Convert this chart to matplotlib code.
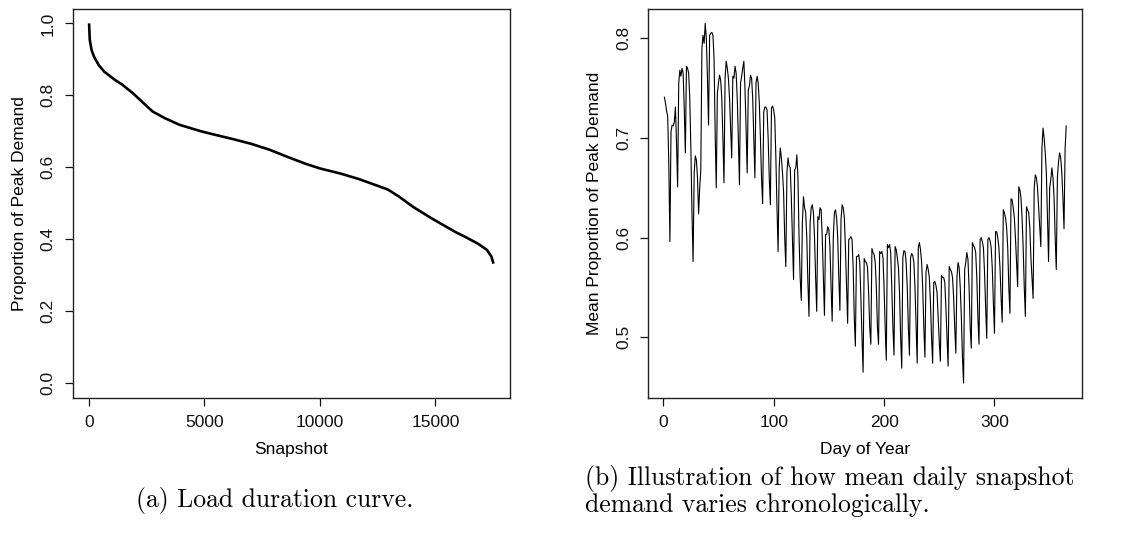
import numpy as np
import matplotlib
matplotlib.use("Agg")
import matplotlib.pyplot as plt

# ---------------- data ----------------
# (a) load duration curve: snapshot index vs proportion of peak demand
ldc_snapshot = [1, 31, 109, 218, 420, 654, 1120, 1432, 1898, 2365, 2754, 3299,
                3921, 4855, 5477, 6255, 7033, 7811, 8589, 9367, 9990, 10923,
                11701, 12479, 12946, 13413, 14035, 14813, 15436, 15902, 16369,
                16836, 17225, 17427, 17520]
ldc_value = [1.000, 0.954, 0.926, 0.907, 0.884, 0.866, 0.843, 0.830, 0.806,
             0.778, 0.755, 0.736, 0.718, 0.700, 0.690, 0.678, 0.665, 0.649,
             0.629, 0.610, 0.597, 0.582, 0.567, 0.549, 0.538, 0.519, 0.490,
             0.459, 0.436, 0.419, 0.404, 0.388, 0.371, 0.352, 0.332]

# (b) mean daily proportion of peak demand, day 1..365
daily_mean = [
    0.741, 0.735, 0.727, 0.722, 0.675, 0.596,
    0.706, 0.713, 0.712, 0.716, 0.731, 0.695, 0.651,
    0.755, 0.768, 0.762, 0.770, 0.765, 0.730, 0.685,
    0.772, 0.770, 0.765, 0.740, 0.690, 0.625, 0.576,
    0.665, 0.682, 0.678, 0.660, 0.624, 0.650, 0.668,
    0.790, 0.803, 0.795, 0.815, 0.800, 0.760, 0.713,
    0.803, 0.805, 0.806, 0.803, 0.780, 0.705, 0.650,
    0.745, 0.755, 0.763, 0.758, 0.740, 0.700, 0.655,
    0.760, 0.777, 0.770, 0.760, 0.740, 0.710, 0.680,
    0.762, 0.760, 0.772, 0.765, 0.740, 0.700, 0.653,
    0.755, 0.762, 0.770, 0.777, 0.750, 0.710, 0.665,
    0.748, 0.752, 0.763, 0.760, 0.740, 0.700, 0.660,
    0.755, 0.762, 0.755, 0.735, 0.700, 0.660, 0.634,
    0.726, 0.731, 0.731, 0.728, 0.700, 0.660, 0.633,
    0.730, 0.732, 0.728, 0.720, 0.680, 0.630, 0.586,
    0.670, 0.690, 0.680, 0.665, 0.645, 0.600, 0.571,
    0.665, 0.680, 0.672, 0.670, 0.640, 0.600, 0.558,
    0.668, 0.670, 0.683, 0.660, 0.600, 0.560, 0.537,
    0.615, 0.641, 0.630, 0.625, 0.600, 0.555, 0.521,
    0.615, 0.630, 0.633, 0.625, 0.600, 0.560, 0.526,
    0.621, 0.618, 0.630, 0.628, 0.600, 0.560, 0.522,
    0.603, 0.603, 0.611, 0.608, 0.590, 0.550, 0.516,
    0.600, 0.625, 0.628, 0.620, 0.600, 0.560, 0.527,
    0.618, 0.633, 0.630, 0.620, 0.590, 0.550, 0.514,
    0.598, 0.599, 0.601, 0.598, 0.570, 0.520, 0.491,
    0.581, 0.581, 0.583, 0.575, 0.540, 0.500, 0.465,
    0.579, 0.576, 0.575, 0.570, 0.545, 0.510, 0.493,
    0.589, 0.585, 0.583, 0.575, 0.550, 0.510, 0.493,
    0.586, 0.584, 0.586, 0.580, 0.550, 0.510, 0.477,
    0.593, 0.590, 0.593, 0.585, 0.550, 0.510, 0.482,
    0.591, 0.588, 0.580, 0.570, 0.545, 0.500, 0.469,
    0.580, 0.587, 0.586, 0.575, 0.550, 0.510, 0.482,
    0.580, 0.584, 0.582, 0.575, 0.550, 0.510, 0.474,
    0.590, 0.595, 0.588, 0.575, 0.550, 0.510, 0.480,
    0.565, 0.573, 0.568, 0.560, 0.535, 0.500, 0.474,
    0.555, 0.556, 0.552, 0.545, 0.520, 0.495, 0.476,
    0.562, 0.560, 0.560, 0.555, 0.530, 0.500, 0.471,
    0.571, 0.568, 0.566, 0.560, 0.540, 0.510, 0.484,
    0.560, 0.575, 0.570, 0.550, 0.520, 0.480, 0.454,
    0.568, 0.575, 0.585, 0.578, 0.550, 0.510, 0.489,
    0.595, 0.592, 0.590, 0.585, 0.560, 0.520, 0.493,
    0.598, 0.600, 0.596, 0.590, 0.565, 0.530, 0.499,
    0.598, 0.600, 0.597, 0.590, 0.570, 0.535, 0.504,
    0.606, 0.606, 0.600, 0.590, 0.570, 0.540, 0.515,
    0.628, 0.625, 0.620, 0.610, 0.590, 0.550, 0.524,
    0.639, 0.638, 0.630, 0.620, 0.600, 0.575, 0.551,
    0.651, 0.648, 0.640, 0.620, 0.590, 0.550, 0.521,
    0.631, 0.628, 0.625, 0.610, 0.580, 0.560, 0.539,
    0.650, 0.663, 0.660, 0.650, 0.630, 0.610, 0.591,
    0.690, 0.710, 0.700, 0.685, 0.665, 0.620, 0.576,
    0.650, 0.658, 0.670, 0.660, 0.640, 0.600, 0.568,
    0.660, 0.676, 0.685, 0.680, 0.665, 0.640, 0.609,
    0.690, 0.712,
]
day_of_year = list(range(1, len(daily_mean) + 1))

left_xticks = [0, 5000, 10000, 15000]
left_yticks = [0.0, 0.2, 0.4, 0.6, 0.8, 1.0]
right_xticks = [0, 100, 200, 300]
right_yticks = [0.5, 0.6, 0.7, 0.8]

# ---------------- figure ----------------
W, H = 1127, 547
fig = plt.figure(figsize=(W / 100, H / 100), dpi=100)
sans = ["Liberation Sans", "DejaVu Sans"]
FS = 12.5


def rect(x0, x1, ytop, ybot):
    return [x0 / W, 1 - ybot / H, (x1 - x0) / W, (ybot - ytop) / H]


def style(ax):
    for s in ax.spines.values():
        s.set_linewidth(1.0)
        s.set_color("#222222")
    ax.tick_params(direction="out", length=6, width=0.9, pad=6.5,
                   labelsize=FS, colors="#111111")
    for lab in ax.get_xticklabels() + ax.get_yticklabels():
        lab.set_family(sans)
    for lab in ax.get_yticklabels():
        lab.set_rotation(90)
        lab.set_va("center")


axL = fig.add_axes(rect(72.9, 509.7, 9, 397.5))
axL.plot(ldc_snapshot, ldc_value, color="black", lw=1.9,
         solid_capstyle="butt")
axL.margins(x=0.04)
axL.set_ylim(-0.04, 1.04)
axL.set_xticks(left_xticks)
axL.set_xticklabels([str(t) for t in left_xticks])
axL.set_yticks(left_yticks)
axL.set_yticklabels([f"{t:.1f}" for t in left_yticks])
style(axL)
axL.set_xlabel("Snapshot", fontsize=FS, family=sans, labelpad=9)
axL.set_ylabel("Proportion of Peak Demand", fontsize=FS, family=sans,
               labelpad=10)

axR = fig.add_axes(rect(648.3, 1082.3, 9, 397.5))
axR.plot(day_of_year, daily_mean, color="black", lw=0.8)
axR.margins(x=0.04, y=0.04)
axR.set_xticks(right_xticks)
axR.set_xticklabels([str(t) for t in right_xticks])
axR.set_yticks(right_yticks)
axR.set_yticklabels([f"{t:.1f}" for t in right_yticks])
style(axR)
axR.set_xlabel("Day of Year", fontsize=FS, family=sans, labelpad=9)
axR.set_ylabel("Mean Proportion of Peak Demand", fontsize=FS, family=sans,
               labelpad=10)

# captions (LaTeX-like)
cap_font = ["cmr10", "DejaVu Serif"]
CFS = 18.5
fig.text(275 / W, 1 - 501 / H, "(a) Load duration curve.", ha="center",
         va="center", fontsize=CFS, family=cap_font)
fig.text(585 / W, 1 - 478 / H, "(b) Illustration of how mean daily snapshot",
         ha="left", va="center", fontsize=CFS, family=cap_font)
fig.text(585 / W, 1 - 505 / H, "demand varies chronologically.",
         ha="left", va="center", fontsize=CFS, family=cap_font)

fig.savefig("out.png", dpi=100, facecolor="white")
